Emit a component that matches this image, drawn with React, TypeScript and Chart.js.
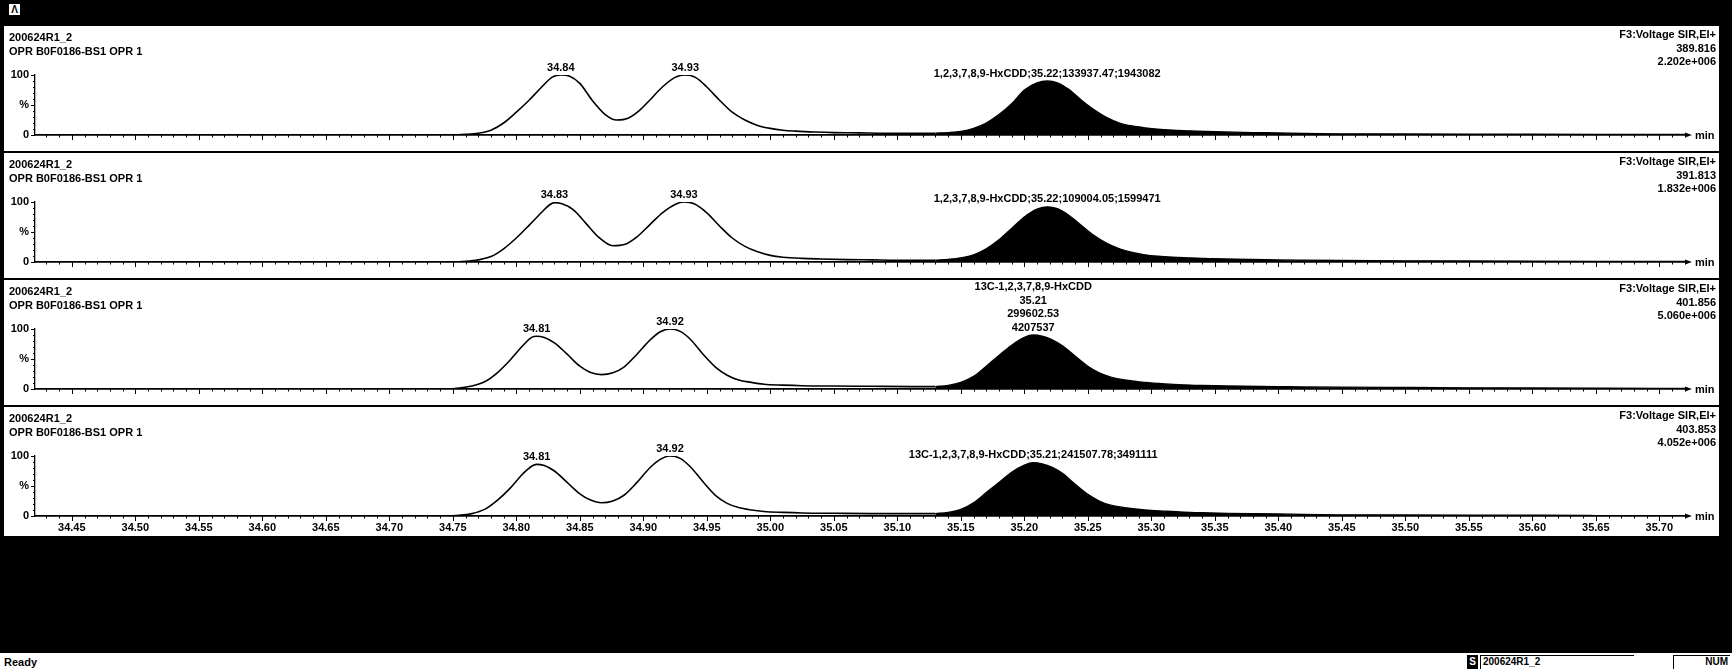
import React, { useEffect, useRef } from 'react';
import { Chart, registerables } from 'chart.js';

Chart.register(...registerables);

const FONT = "'Liberation Sans', Arial, Helvetica, sans-serif";

// ---- axis ----
const xMin = 34.421;
const xMax = 35.721;
const xTickValues = [34.45, 34.5, 34.55, 34.6, 34.65, 34.7, 34.75, 34.8, 34.85, 34.9, 34.95, 35.0, 35.05, 35.1, 35.15, 35.2, 35.25, 35.3, 35.35, 35.4, 35.45, 35.5, 35.55, 35.6, 35.65, 35.7];
const xTickLabels = ['34.45', '34.50', '34.55', '34.60', '34.65', '34.70', '34.75', '34.80', '34.85', '34.90', '34.95', '35.00', '35.05', '35.10', '35.15', '35.20', '35.25', '35.30', '35.35', '35.40', '35.45', '35.50', '35.55', '35.60', '35.65', '35.70'];
const yTickValues = [0, 50, 100];
const yTickLabels = ['0', '%', '100'];

// ---- header texts ----
const sampleName = '200624R1_2';
const sampleDesc = 'OPR B0F0186-BS1 OPR 1';
const functionName = 'F3:Voltage SIR,EI+';
const panelMasses = ['389.816', '391.813', '401.856', '403.853'];
const panelMaxIntensity = ['2.202e+006', '1.832e+006', '5.060e+006', '4.052e+006'];

// ---- panel 1 (389.816) ----
const p1TimesA = [34.421, 34.43, 34.75, 34.76, 34.77, 34.78, 34.79, 34.8, 34.81, 34.82, 34.828, 34.835, 34.842, 34.85, 34.86, 34.87, 34.879, 34.888, 34.897, 34.905, 34.915, 34.925, 34.933, 34.941, 34.95, 34.96, 34.97, 34.98, 34.99, 35.0, 35.01, 35.02, 35.035, 35.05, 35.07, 35.09, 35.11, 35.13];
const p1ValuesA = [0, 0, 0, 1, 3, 8, 20, 38, 58, 80, 96, 100, 98, 86, 57, 34, 25, 28, 41, 58, 80, 96, 100, 96, 80, 58, 38, 25, 16, 11, 8, 6.5, 5, 4, 3.5, 3, 3, 3];
const p1TimesB = [35.13, 35.14, 35.15, 35.16, 35.17, 35.18, 35.19, 35.2, 35.21, 35.218, 35.226, 35.235, 35.245, 35.255, 35.265, 35.275, 35.285, 35.295, 35.31, 35.33, 35.35, 35.38, 35.4, 35.42, 35.45, 35.5, 35.55, 35.6, 35.65, 35.7, 35.721];
const p1ValuesB = [3, 4, 6, 11, 20, 34, 52, 75, 87, 90, 87, 76, 58, 42, 29, 20, 15, 12, 9, 7, 5.5, 4, 3.5, 2.5, 2, 1.8, 1.5, 1.3, 1, 0.8, 0.8];
const p1PeakTimes = [34.835, 34.933, 35.218];
const p1PeakLabels = [['34.84'], ['34.93'], ['1,2,3,7,8,9-HxCDD;35.22;133937.47;1943082']];

// ---- panel 2 (391.813) ----
const p2TimesA = [34.421, 34.43, 34.75, 34.76, 34.77, 34.78, 34.79, 34.8, 34.81, 34.82, 34.826, 34.83, 34.836, 34.845, 34.855, 34.865, 34.876, 34.885, 34.895, 34.905, 34.915, 34.925, 34.932, 34.94, 34.95, 34.96, 34.97, 34.98, 34.99, 35.0, 35.01, 35.025, 35.04, 35.06, 35.08, 35.1, 35.13];
const p2ValuesA = [0, 0, 0, 1, 3.5, 9, 22, 40, 61, 83, 95, 99, 97, 87, 64, 41, 27, 29, 42, 62, 82, 96, 100, 97, 82, 60, 40, 26, 17, 11, 8, 6, 5, 4, 3.5, 3, 3];
const p2TimesB = [35.13, 35.14, 35.15, 35.16, 35.17, 35.18, 35.19, 35.2, 35.21, 35.218, 35.226, 35.235, 35.245, 35.255, 35.265, 35.275, 35.285, 35.295, 35.31, 35.33, 35.35, 35.38, 35.4, 35.42, 35.45, 35.5, 35.55, 35.6, 35.65, 35.7, 35.721];
const p2ValuesB = [3, 4.5, 7, 12, 22, 37, 56, 75, 88, 92, 89, 78, 61, 44, 31, 22, 16, 12, 9, 7, 5.5, 4.5, 3.5, 3, 2.5, 2, 1.8, 1.5, 1.2, 1, 1];
const p2PeakTimes = [34.83, 34.932, 35.218];
const p2PeakLabels = [['34.83'], ['34.93'], ['1,2,3,7,8,9-HxCDD;35.22;109004.05;1599471']];

// ---- panel 3 (401.856) ----
const p3TimesA = [34.421, 34.43, 34.745, 34.755, 34.765, 34.775, 34.785, 34.795, 34.805, 34.812, 34.816, 34.822, 34.83, 34.84, 34.85, 34.858, 34.867, 34.876, 34.885, 34.895, 34.905, 34.913, 34.921, 34.929, 34.937, 34.947, 34.957, 34.966, 34.975, 34.985, 34.995, 35.01, 35.025, 35.05, 35.08, 35.11, 35.13];
const p3ValuesA = [0, 0, 0, 1.5, 5, 12, 27, 48, 72, 86, 88, 86, 77, 58, 38, 28, 24, 27, 37, 58, 81, 95, 100, 96, 83, 58, 36, 23, 15, 11, 8, 6.5, 5.5, 5, 4.5, 4, 4];
const p3TimesB = [35.13, 35.14, 35.15, 35.16, 35.17, 35.18, 35.19, 35.2, 35.207, 35.214, 35.222, 35.23, 35.24, 35.25, 35.259, 35.268, 35.279, 35.295, 35.311, 35.325, 35.34, 35.36, 35.4, 35.42, 35.45, 35.5, 35.55, 35.6, 35.65, 35.7, 35.721];
const p3ValuesB = [4, 6, 11, 21, 38, 56, 73, 86, 90, 88, 82, 72, 55, 38, 27, 20, 15, 11, 8.5, 7, 6, 5, 4, 3.5, 3, 2.5, 2, 1.8, 1.5, 1.2, 1.2];
const p3PeakTimes = [34.816, 34.921, 35.207];
const p3PeakLabels = [['34.81'], ['34.92'], ['13C-1,2,3,7,8,9-HxCDD', '35.21', '299602.53', '4207537']];

// ---- panel 4 (403.853) ----
const p4TimesA = [34.421, 34.43, 34.745, 34.755, 34.765, 34.775, 34.785, 34.795, 34.805, 34.812, 34.816, 34.822, 34.83, 34.84, 34.85, 34.858, 34.867, 34.876, 34.885, 34.895, 34.905, 34.913, 34.921, 34.929, 34.937, 34.947, 34.957, 34.966, 34.975, 34.985, 34.995, 35.01, 35.025, 35.05, 35.08, 35.11, 35.13];
const p4ValuesA = [0, 0, 0, 1, 4, 11, 26, 46, 70, 83, 86, 84, 75, 56, 37, 27, 22, 25, 35, 56, 80, 94, 100, 96, 82, 57, 34, 21, 14, 10, 7.5, 6, 5, 4.5, 4, 4, 4];
const p4TimesB = [35.13, 35.14, 35.15, 35.16, 35.17, 35.18, 35.19, 35.2, 35.207, 35.214, 35.222, 35.23, 35.24, 35.25, 35.259, 35.268, 35.279, 35.295, 35.311, 35.325, 35.34, 35.36, 35.4, 35.42, 35.45, 35.5, 35.55, 35.6, 35.64, 35.65, 35.7, 35.721];
const p4ValuesB = [4, 6, 11, 22, 39, 56, 73, 85, 89, 87, 81, 71, 53, 36, 25, 18, 14, 10, 8, 6.5, 5.5, 4.5, 3.5, 2.5, 2, 1.8, 1.5, 1.3, 1.2, 0.7, 0.6, 0.6];
const p4PeakTimes = [34.816, 34.921, 35.207];
const p4PeakLabels = [['34.81'], ['34.92'], ['13C-1,2,3,7,8,9-HxCDD;35.21;241507.78;3491111']];

type PanelSpec = {
  timesA: number[]; valuesA: number[]; timesB: number[]; valuesB: number[];
  peakTimes: number[]; peakLabels: string[][]; mass: string; maxI: string;
};

const panels: PanelSpec[] = [
  { timesA: p1TimesA, valuesA: p1ValuesA, timesB: p1TimesB, valuesB: p1ValuesB, peakTimes: p1PeakTimes, peakLabels: p1PeakLabels, mass: panelMasses[0], maxI: panelMaxIntensity[0] },
  { timesA: p2TimesA, valuesA: p2ValuesA, timesB: p2TimesB, valuesB: p2ValuesB, peakTimes: p2PeakTimes, peakLabels: p2PeakLabels, mass: panelMasses[1], maxI: panelMaxIntensity[1] },
  { timesA: p3TimesA, valuesA: p3ValuesA, timesB: p3TimesB, valuesB: p3ValuesB, peakTimes: p3PeakTimes, peakLabels: p3PeakLabels, mass: panelMasses[2], maxI: panelMaxIntensity[2] },
  { timesA: p4TimesA, valuesA: p4ValuesA, timesB: p4TimesB, valuesB: p4ValuesB, peakTimes: p4PeakTimes, peakLabels: p4PeakLabels, mass: panelMasses[3], maxI: panelMaxIntensity[3] },
];

const PANEL_W = 1717;

function makePlugin(spec: PanelSpec) {
  return {
    id: 'chromDecor',
    afterDatasetsDraw(chart: any) {
      const { ctx, chartArea } = chart;
      const xs = chart.scales.x;
      const ys = chart.scales.y;
      const bottom = chartArea.bottom;
      const left = chartArea.left;
      ctx.save();
      ctx.strokeStyle = '#000';
      ctx.fillStyle = '#000';
      ctx.lineWidth = 1;
      // x ticks (minor every 0.01, major every 0.05)
      const first = Math.ceil(xMin * 100);
      const last = Math.floor(xMax * 100);
      for (let k = first; k <= last; k++) {
        const px = Math.round(xs.getPixelForValue(k / 100)) + 0.5;
        const len = k % 5 === 0 ? 5 : 2.5;
        ctx.beginPath();
        ctx.moveTo(px, bottom);
        ctx.lineTo(px, bottom + len);
        ctx.stroke();
      }
      // y ticks
      for (let v = 0; v <= 100; v += 10) {
        const py = Math.round(ys.getPixelForValue(v)) + 0.5;
        const len = v % 50 === 0 ? 4 : 2;
        ctx.beginPath();
        ctx.moveTo(left, py);
        ctx.lineTo(left - len, py);
        ctx.stroke();
      }
      // arrow + unit
      const r = chartArea.right;
      ctx.beginPath();
      ctx.moveTo(r + 6, bottom);
      ctx.lineTo(r - 1, bottom - 2.5);
      ctx.lineTo(r - 1, bottom + 2.5);
      ctx.closePath();
      ctx.fill();
      ctx.font = `bold 11px ${FONT}`;
      ctx.textBaseline = 'middle';
      ctx.textAlign = 'left';
      ctx.fillText('min', r + 9, bottom + 1);
      // peak labels
      const allT = spec.timesA.concat(spec.timesB);
      const allV = spec.valuesA.concat(spec.valuesB);
      ctx.textAlign = 'center';
      ctx.textBaseline = 'bottom';
      spec.peakTimes.forEach((t, i) => {
        let best = 0;
        allT.forEach((tt, j) => {
          if (Math.abs(tt - t) <= 0.004 && allV[j] > best) best = allV[j];
        });
        const px = xs.getPixelForValue(t);
        const py = ys.getPixelForValue(best) - 2;
        const lines = spec.peakLabels[i];
        for (let li = lines.length - 1; li >= 0; li--) {
          const off = (lines.length - 1 - li) * 13.5;
          ctx.fillText(lines[li], px, py - off);
        }
      });
      ctx.restore();
    },
  };
}

function Panel({ spec, top, height, showX }: { spec: PanelSpec; top: number; height: number; showX: boolean }) {
  const ref = useRef<HTMLCanvasElement>(null);
  useEffect(() => {
    const canvas = ref.current!;
    const chart = new Chart(canvas, {
      type: 'line',
      data: {
        datasets: [
          {
            data: spec.timesA.map((t, i) => ({ x: t, y: spec.valuesA[i] })),
            borderColor: '#000',
            borderWidth: 1.6,
            pointRadius: 0,
            fill: false,
            cubicInterpolationMode: 'monotone',
          },
          {
            data: spec.timesB.map((t, i) => ({ x: t, y: spec.valuesB[i] })),
            borderColor: '#000',
            backgroundColor: '#000',
            borderWidth: 1.3,
            pointRadius: 0,
            fill: 'origin',
            cubicInterpolationMode: 'monotone',
          },
        ],
      } as any,
      options: {
        animation: false,
        responsive: false,
        maintainAspectRatio: false,
        devicePixelRatio: 1,
        events: [],
        layout: { padding: { top: 50, right: 34, left: 0, bottom: 0 } },
        plugins: { legend: { display: false }, tooltip: { enabled: false } },
        scales: {
          x: {
            type: 'linear',
            min: xMin,
            max: xMax,
            grid: { display: false, drawTicks: true, tickLength: 5 },
            border: { display: true, color: '#000', width: 1.8 },
            ticks: {
              display: showX,
              autoSkip: false,
              maxRotation: 0,
              minRotation: 0,
              padding: 0,
              color: '#000',
              font: { family: FONT, size: 11, weight: 'bold' },
              callback: (v: any) => {
                const idx = xTickValues.findIndex((tv) => Math.abs(tv - v) < 1e-6);
                return idx >= 0 ? xTickLabels[idx] : '';
              },
            },
            afterBuildTicks: (s: any) => {
              s.ticks = xTickValues.map((v) => ({ value: v }));
            },
            afterFit: (s: any) => {
              s.height = height - 110;
            },
          },
          y: {
            type: 'linear',
            min: 0,
            max: 100,
            grid: { display: false, drawTicks: true, tickLength: 4 },
            border: { display: true, color: '#000', width: 1.3 },
            ticks: {
              padding: 2,
              color: '#000',
              font: { family: FONT, size: 11, weight: 'bold' },
              callback: (v: any) => {
                const idx = yTickValues.indexOf(v);
                return idx >= 0 ? yTickLabels[idx] : '';
              },
            },
            afterBuildTicks: (s: any) => {
              s.ticks = yTickValues.map((v) => ({ value: v }));
            },
            afterFit: (s: any) => {
              s.width = 32;
            },
          },
        },
      } as any,
      plugins: [makePlugin(spec)],
    });
    return () => chart.destroy();
  }, []);

  const textStyle: React.CSSProperties = {
    position: 'absolute',
    fontFamily: FONT,
    fontWeight: 'bold',
    fontSize: 11,
    lineHeight: '13.5px',
    color: '#000',
    whiteSpace: 'pre',
  };

  return (
    <div
      style={{
        position: 'absolute',
        left: 3,
        top,
        width: PANEL_W,
        height,
        background: '#fff',
        boxShadow: 'inset 0 0 0 1px #000',
      }}
    >
      <canvas ref={ref} width={PANEL_W} height={height} style={{ position: 'absolute', left: 0, top: 0, width: PANEL_W, height }} />
      <div style={{ ...textStyle, left: 6, top: 6 }}>
        {sampleName}
        {'\n'}
        {sampleDesc}
      </div>
      <div style={{ ...textStyle, right: 4, top: 3, textAlign: 'right' }}>
        {functionName}
        {'\n'}
        {spec.mass}
        {'\n'}
        {spec.maxI}
      </div>
    </div>
  );
}

const panelTops = [25, 152, 279, 406];
const panelHeights = [127, 127, 127, 131];

export default function App() {
  return (
    <div
      style={{
        position: 'fixed',
        left: 0,
        top: 0,
        width: 1732,
        height: 672,
        background: '#000',
        overflow: 'hidden',
        fontFamily: FONT,
      }}
    >
      {/* window icon */}
      <div
        style={{
          position: 'absolute',
          left: 9,
          top: 4,
          width: 11,
          height: 11,
          background: '#fff',
          color: '#000',
          fontSize: 10,
          fontWeight: 'bold',
          lineHeight: '11px',
          textAlign: 'center',
        }}
      >
        Λ
      </div>
      {panels.map((p, i) => (
        <Panel key={i} spec={p} top={panelTops[i]} height={panelHeights[i]} showX={i === panels.length - 1} />
      ))}
      {/* status bar */}
      <div style={{ position: 'absolute', left: 0, top: 653, width: 1732, height: 19, background: '#fff' }}>
        <div style={{ position: 'absolute', left: 4, top: 3, fontSize: 11, fontWeight: 'bold', color: '#000' }}>Ready</div>
        <div style={{ position: 'absolute', left: 1467, top: 2, width: 11, height: 14, background: '#000', color: '#fff', fontSize: 10, fontWeight: 'bold', lineHeight: '14px', textAlign: 'center' }}>S</div>
        <div style={{ position: 'absolute', left: 1480, top: 2, width: 154, height: 14, boxShadow: 'inset 1px 1px 0 #000', fontSize: 10, fontWeight: 'bold', lineHeight: '14px', paddingLeft: 3, color: '#000', boxSizing: 'border-box' }}>
          {sampleName}
        </div>
        <div style={{ position: 'absolute', left: 1673, top: 2, width: 57, height: 14, boxShadow: 'inset 1px 1px 0 #000', fontSize: 10, fontWeight: 'bold', lineHeight: '14px', textAlign: 'right', paddingRight: 2, color: '#000', boxSizing: 'border-box' }}>
          NUM
        </div>
      </div>
    </div>
  );
}
